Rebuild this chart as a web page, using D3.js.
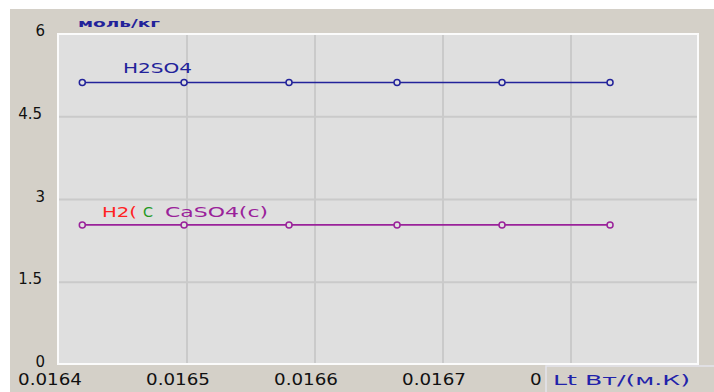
<!DOCTYPE html>
<html>
<head>
<meta charset="utf-8">
<script src="https://cdn.jsdelivr.net/npm/d3@7"></script>
<style>
  body { margin: 0; background: #fff; }
  text { font-family: "DejaVu Sans", sans-serif; }
</style>
</head>
<body>
<svg id="chart"></svg>
<script>
// data
const conductivity = [0.0164182, 0.0164977, 0.0165797, 0.0166641, 0.0167461, 0.0168305];
const h2so4 = [5.12, 5.12, 5.12, 5.12, 5.12, 5.12];
const caso4 = [2.54, 2.54, 2.54, 2.54, 2.54, 2.54];
const xTicks = [0.0164, 0.0165, 0.0166, 0.0167, 0.0168];
const yTicks = [0, 1.5, 3, 4.5, 6];

const width = 714;
const height = 392;

const svg = d3.select('#chart')
    .attr('width', width)
    .attr('height', height);

// clip for tick labels hidden behind the axis title box
svg.append('defs').append('clipPath')
    .attr('id', 'tickclip')
    .append('rect')
    .attr('x', 0).attr('y', 0)
    .attr('width', 541).attr('height', height);

// panel background
svg.append('rect')
    .attr('x', 10).attr('y', 9)
    .attr('width', width - 10).attr('height', height - 9)
    .attr('fill', '#d4d0c8');

const x = d3.scaleLinear()
    .domain([0.0164, 0.0169])
    .range([59, 699]);

const y = d3.scaleLinear()
    .domain([0, 6])
    .range([365, 34]);

// plot area
svg.append('rect')
    .attr('x', x(0.0164) - 1).attr('y', y(6))
    .attr('width', x(0.0169) - x(0.0164)).attr('height', y(0) - y(6) - 1)
    .attr('fill', '#dfdfdf')
    .attr('stroke', '#fbfbfb')
    .attr('stroke-width', 2);

// grid
svg.append('g')
    .selectAll('line')
    .data(xTicks.slice(1))
    .join('line')
    .attr('x1', d => x(d)).attr('x2', d => x(d))
    .attr('y1', y(6) + 1).attr('y2', y(0) - 2)
    .attr('stroke', '#cacaca')
    .attr('stroke-width', 2);

svg.append('g')
    .selectAll('line')
    .data(yTicks.slice(1, -1))
    .join('line')
    .attr('x1', x(0.0164)).attr('x2', x(0.0169) - 2)
    .attr('y1', d => y(d)).attr('y2', d => y(d))
    .attr('stroke', '#cacaca')
    .attr('stroke-width', 2);

// tick labels
svg.append('g')
    .selectAll('text')
    .data(yTicks)
    .join('text')
    .attr('x', d => Number.isInteger(d) ? 45 : 42)
    .attr('y', d => y(d) + 2)
    .attr('text-anchor', 'end')
    .attr('font-size', 15)
    .attr('fill', '#111')
    .text(d => d);

svg.append('g')
    .attr('clip-path', 'url(#tickclip)')
    .selectAll('text')
    .data(xTicks)
    .join('text')
    .attr('x', d => x(d) - 41)
    .attr('y', 385)
    .attr('font-size', 15)
    .attr('textLength', 64)
    .attr('lengthAdjust', 'spacingAndGlyphs')
    .attr('fill', '#111')
    .text(d => d.toFixed(4));

// series
const series = [
    { values: h2so4, color: '#22229a' },
    { values: caso4, color: '#9a229a' }
];

series.forEach(s => {
    const pts = conductivity.map((c, i) => [c, s.values[i]]);
    svg.append('path')
        .datum(pts)
        .attr('fill', 'none')
        .attr('stroke', s.color)
        .attr('stroke-width', 1.6)
        .attr('d', d3.line().x(d => x(d[0])).y(d => y(d[1])));
    svg.append('g')
        .selectAll('circle')
        .data(pts)
        .join('circle')
        .attr('cx', d => x(d[0]))
        .attr('cy', d => y(d[1]))
        .attr('r', 3)
        .attr('fill', '#e0e0e0')
        .attr('stroke', s.color)
        .attr('stroke-width', 1.5);
});

// series labels
function label(tx, ty, str, color, len) {
    svg.append('text')
        .attr('x', tx).attr('y', ty)
        .attr('font-size', 14)
        .attr('textLength', len)
        .attr('lengthAdjust', 'spacingAndGlyphs')
        .attr('fill', color)
        .text(str);
}
label(123, 73, 'H2SO4', '#22229a', 69);
label(102, 217, 'H2(', '#ff2222', 35);
label(143, 217, 'C', '#229922', 10);
label(165, 217, 'CaSO4(c)', '#9a229a', 103);

// unit label
svg.append('text')
    .attr('x', 78).attr('y', 27)
    .attr('font-size', 11)
    .attr('font-weight', 'bold')
    .attr('textLength', 82)
    .attr('lengthAdjust', 'spacingAndGlyphs')
    .attr('fill', '#22229a')
    .text('моль/кг');

// x-axis title box
svg.append('rect')
    .attr('x', 546).attr('y', 366)
    .attr('width', 170).attr('height', 28)
    .attr('fill', '#d4d0c8')
    .attr('stroke', '#e4e4ec')
    .attr('stroke-width', 1.5);

svg.append('text')
    .attr('x', 553).attr('y', 385)
    .attr('font-size', 14)
    .attr('textLength', 137)
    .attr('lengthAdjust', 'spacingAndGlyphs')
    .attr('fill', '#2222aa')
    .text('Lt Вт/(м.К)');
</script>
</body>
</html>
